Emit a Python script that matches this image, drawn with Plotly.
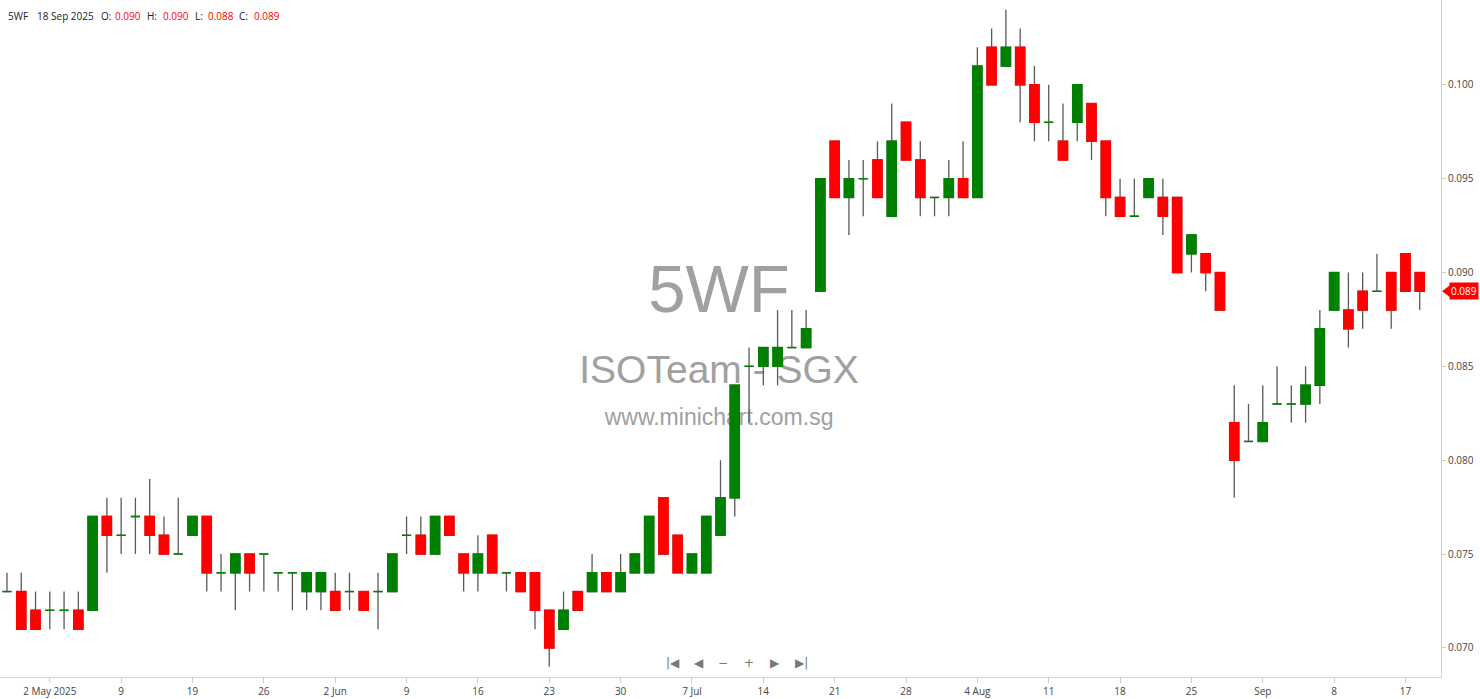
import plotly.graph_objects as go

# ---------------- data ----------------
dates = [
    "2025-04-28", "2025-04-29", "2025-04-30", "2025-05-02", "2025-05-05", "2025-05-06", "2025-05-07", "2025-05-08",
    "2025-05-09", "2025-05-13", "2025-05-14", "2025-05-15", "2025-05-16", "2025-05-19", "2025-05-20", "2025-05-21",
    "2025-05-22", "2025-05-23", "2025-05-26", "2025-05-27", "2025-05-28", "2025-05-29", "2025-05-30", "2025-06-02",
    "2025-06-03", "2025-06-04", "2025-06-05", "2025-06-06", "2025-06-09", "2025-06-10", "2025-06-11", "2025-06-12",
    "2025-06-13", "2025-06-16", "2025-06-17", "2025-06-18", "2025-06-19", "2025-06-20", "2025-06-23", "2025-06-24",
    "2025-06-25", "2025-06-26", "2025-06-27", "2025-06-30", "2025-07-01", "2025-07-02", "2025-07-03", "2025-07-04",
    "2025-07-07", "2025-07-08", "2025-07-09", "2025-07-10", "2025-07-11", "2025-07-14", "2025-07-15", "2025-07-16",
    "2025-07-17", "2025-07-18", "2025-07-21", "2025-07-22", "2025-07-23", "2025-07-24", "2025-07-25", "2025-07-28",
    "2025-07-29", "2025-07-30", "2025-07-31", "2025-08-01", "2025-08-04", "2025-08-05", "2025-08-06", "2025-08-07",
    "2025-08-08", "2025-08-11", "2025-08-12", "2025-08-13", "2025-08-14", "2025-08-15", "2025-08-18", "2025-08-19",
    "2025-08-20", "2025-08-21", "2025-08-22", "2025-08-25", "2025-08-26", "2025-08-27", "2025-08-28", "2025-08-29",
    "2025-09-01", "2025-09-02", "2025-09-03", "2025-09-04", "2025-09-05", "2025-09-08", "2025-09-09", "2025-09-10",
    "2025-09-11", "2025-09-12", "2025-09-17", "2025-09-18",
]

opens = [
    0.073, 0.073, 0.072, 0.072, 0.072, 0.072, 0.072, 0.077, 0.076, 0.077, 0.077, 0.076, 0.075, 0.076, 0.077, 0.074,
    0.074, 0.075, 0.075, 0.074, 0.074, 0.073, 0.073, 0.073, 0.073, 0.073, 0.073, 0.073, 0.076, 0.076, 0.075, 0.077,
    0.075, 0.074, 0.076, 0.074, 0.074, 0.074, 0.072, 0.071, 0.073, 0.073, 0.074, 0.073, 0.074, 0.074, 0.078, 0.076,
    0.074, 0.074, 0.076, 0.078, 0.085, 0.085, 0.085, 0.086, 0.086, 0.089, 0.097, 0.094, 0.095, 0.096, 0.093, 0.098,
    0.096, 0.094, 0.094, 0.095, 0.094, 0.102, 0.101, 0.102, 0.100, 0.098, 0.097, 0.098, 0.099, 0.097, 0.094, 0.093,
    0.094, 0.094, 0.094, 0.091, 0.091, 0.090, 0.082, 0.081, 0.081, 0.083, 0.083, 0.083, 0.084, 0.088, 0.088, 0.089,
    0.089, 0.090, 0.091, 0.090,
]
highs = [
    0.074, 0.074, 0.073, 0.073, 0.073, 0.073, 0.077, 0.078, 0.078, 0.078, 0.079, 0.077, 0.078, 0.077, 0.077, 0.075,
    0.075, 0.075, 0.075, 0.074, 0.074, 0.074, 0.074, 0.074, 0.074, 0.073, 0.074, 0.075, 0.077, 0.077, 0.077, 0.077,
    0.075, 0.076, 0.076, 0.074, 0.074, 0.074, 0.072, 0.073, 0.073, 0.075, 0.074, 0.075, 0.075, 0.077, 0.078, 0.076,
    0.075, 0.077, 0.080, 0.084, 0.086, 0.086, 0.088, 0.088, 0.088, 0.095, 0.097, 0.096, 0.096, 0.097, 0.099, 0.098,
    0.097, 0.094, 0.096, 0.097, 0.102, 0.103, 0.104, 0.103, 0.101, 0.100, 0.099, 0.100, 0.099, 0.097, 0.095, 0.095,
    0.095, 0.095, 0.094, 0.092, 0.091, 0.090, 0.084, 0.083, 0.084, 0.085, 0.084, 0.085, 0.088, 0.090, 0.090, 0.090,
    0.091, 0.090, 0.091, 0.090,
]
lows = [
    0.073, 0.071, 0.071, 0.071, 0.071, 0.071, 0.072, 0.074, 0.075, 0.075, 0.075, 0.075, 0.075, 0.076, 0.073, 0.073,
    0.072, 0.073, 0.073, 0.073, 0.072, 0.072, 0.072, 0.072, 0.072, 0.072, 0.071, 0.073, 0.075, 0.075, 0.075, 0.076,
    0.073, 0.073, 0.074, 0.073, 0.073, 0.071, 0.069, 0.071, 0.072, 0.073, 0.073, 0.073, 0.074, 0.074, 0.075, 0.074,
    0.074, 0.074, 0.076, 0.077, 0.082, 0.084, 0.084, 0.086, 0.086, 0.089, 0.094, 0.092, 0.093, 0.094, 0.093, 0.096,
    0.093, 0.093, 0.093, 0.094, 0.094, 0.100, 0.101, 0.098, 0.097, 0.097, 0.096, 0.097, 0.096, 0.093, 0.093, 0.093,
    0.094, 0.092, 0.090, 0.090, 0.089, 0.088, 0.078, 0.081, 0.081, 0.083, 0.082, 0.082, 0.083, 0.088, 0.086, 0.087,
    0.089, 0.087, 0.089, 0.088,
]
closes = [
    0.073, 0.071, 0.071, 0.072, 0.072, 0.071, 0.077, 0.076, 0.076, 0.077, 0.076, 0.075, 0.075, 0.077, 0.074, 0.074,
    0.075, 0.074, 0.075, 0.074, 0.074, 0.074, 0.074, 0.072, 0.073, 0.072, 0.073, 0.075, 0.076, 0.075, 0.077, 0.076,
    0.074, 0.075, 0.074, 0.074, 0.073, 0.072, 0.070, 0.072, 0.072, 0.074, 0.073, 0.074, 0.075, 0.077, 0.075, 0.074,
    0.075, 0.077, 0.078, 0.084, 0.085, 0.086, 0.086, 0.086, 0.087, 0.095, 0.094, 0.095, 0.095, 0.094, 0.097, 0.096,
    0.094, 0.094, 0.095, 0.094, 0.101, 0.100, 0.102, 0.100, 0.098, 0.098, 0.096, 0.100, 0.097, 0.094, 0.093, 0.093,
    0.095, 0.093, 0.090, 0.092, 0.090, 0.088, 0.080, 0.081, 0.082, 0.083, 0.083, 0.084, 0.087, 0.090, 0.087, 0.088,
    0.089, 0.088, 0.089, 0.089,
]

tick_dates = ["2025-05-02", "2025-05-09", "2025-05-19", "2025-05-26", "2025-06-02", "2025-06-09", "2025-06-16",
              "2025-06-23", "2025-06-30", "2025-07-07", "2025-07-14", "2025-07-21", "2025-07-28", "2025-08-04",
              "2025-08-11", "2025-08-18", "2025-08-25", "2025-09-01", "2025-09-08", "2025-09-17"]
tick_labels = ["2 May 2025", "9", "19", "26", "2 Jun", "9", "16", "23", "30", "7 Jul", "14", "21", "28", "4 Aug",
               "11", "18", "25", "Sep", "8", "17"]

symbol = "5WF"
company = "ISOTeam - SGX"
site = "www.minichart.com.sg"
last_date_label = "18 Sep 2025"

# ---------------- layout constants ----------------
W, H = 1480, 699
PLOT_W, PLOT_H = 1441, 677
GREEN = "#008000"
RED = "#ff0000"
WICK = "#5a5a5a"
WM = "#a0a0a0"

def px_x(px):
    return px / PLOT_W

def px_y(py):
    return 1 - py / PLOT_H

# body traces (up incl. doji / down)
up_o, up_h, up_l, up_c = [], [], [], []
dn_o, dn_h, dn_l, dn_c = [], [], [], []
for o, c in zip(opens, closes):
    top, bot = max(o, c), min(o, c)
    if c >= o:
        up_o.append(o); up_h.append(top); up_l.append(bot); up_c.append(c)
        dn_o.append(None); dn_h.append(None); dn_l.append(None); dn_c.append(None)
    else:
        dn_o.append(o); dn_h.append(top); dn_l.append(bot); dn_c.append(c)
        up_o.append(None); up_h.append(None); up_l.append(None); up_c.append(None)

fig = go.Figure()

# watermark (base axes, drawn under the candles)
wm_font = "Liberation Sans, Arial, sans-serif"
fig.add_trace(go.Scatter(
    x=[0.499, 0.499, 0.499], y=[px_y(295), px_y(373), px_y(419)],
    text=[symbol, company, site], mode="text", textposition="middle center",
    textfont=dict(family=wm_font, size=[67, 39, 23], color=WM),
    hoverinfo="skip", showlegend=False, xaxis="x", yaxis="y",
))

# wicks (full OHLC)
fig.add_trace(go.Candlestick(
    x=dates, open=opens, high=highs, low=lows, close=closes,
    increasing=dict(line=dict(color=WICK, width=1.3), fillcolor=WICK),
    decreasing=dict(line=dict(color=WICK, width=1.3), fillcolor=WICK),
    whiskerwidth=0, showlegend=False, xaxis="x2", yaxis="y2", name=symbol,
))
# bodies
fig.add_trace(go.Candlestick(
    x=dates, open=up_o, high=up_h, low=up_l, close=up_c,
    increasing=dict(line=dict(color=GREEN, width=1.5), fillcolor=GREEN),
    decreasing=dict(line=dict(color=GREEN, width=1.5), fillcolor=GREEN),
    whiskerwidth=0, showlegend=False, hoverinfo="skip", xaxis="x2", yaxis="y2",
))
fig.add_trace(go.Candlestick(
    x=dates, open=dn_o, high=dn_h, low=dn_l, close=dn_c,
    increasing=dict(line=dict(color=RED, width=1.5), fillcolor=RED),
    decreasing=dict(line=dict(color=RED, width=1.5), fillcolor=RED),
    whiskerwidth=0, showlegend=False, hoverinfo="skip", xaxis="x2", yaxis="y2",
))

axis_font = dict(family="Open Sans, Noto Sans, sans-serif", size=10, color="#444")

fig.update_layout(
    width=W, height=H,
    margin=dict(l=0, r=W - PLOT_W, t=0, b=H - PLOT_H),
    paper_bgcolor="white", plot_bgcolor="white",
    showlegend=False,
    boxgap=0.36, boxgroupgap=0,
    xaxis=dict(range=[0, 1], visible=False, fixedrange=True, rangeslider=dict(visible=False)),
    yaxis=dict(range=[0, 1], visible=False, fixedrange=True),
    xaxis2=dict(
        type="category", overlaying="x", anchor="y2", side="bottom",
        categoryorder="array", categoryarray=dates,
        range=[-0.49, 100.49],
        tickmode="array", tickvals=tick_dates, ticktext=tick_labels,
        ticks="outside", ticklen=5, tickcolor="#cccccc", tickfont=axis_font,
        showline=True, linecolor="#d4d4d4", linewidth=1,
        showgrid=False, zeroline=False, rangeslider=dict(visible=False),
    ),
    yaxis2=dict(
        overlaying="y", anchor="x2", side="right",
        range=[0.06845, 0.10452],
        tick0=0.07, dtick=0.005, tickformat=".3f",
        ticks="outside", ticklen=4, tickcolor="#cccccc", tickfont=axis_font,
        showline=True, linecolor="#d4d4d4", linewidth=1,
        showgrid=False, zeroline=False,
    ),
)

# header line
hdr_font = "Open Sans, Noto Sans, sans-serif"
last_o, last_h, last_l, last_c = opens[-1], highs[-1], lows[-1], closes[-1]
header_parts = [
    (7, symbol, "#222"), (36, last_date_label, "#222"),
    (100, "O:", "#222"), (114, f"{last_o:.3f}", RED),
    (146, "H:", "#222"), (162, f"{last_h:.3f}", RED),
    (194, "L:", "#222"), (207, f"{last_l:.3f}", RED),
    (238, "C:", "#222"), (253, f"{last_c:.3f}", RED),
]
for px, txt, col in header_parts:
    fig.add_annotation(x=px_x(px), y=px_y(15.5), xref="paper", yref="paper", text=txt,
                       showarrow=False, xanchor="left", yanchor="middle", borderpad=0,
                       font=dict(family=hdr_font, size=10, color=col))

# navigation glyphs
nav = [(673, "|◀"), (699, "◀"), (723, "−"), (749, "+"), (775, "▶"), (801, "▶|")]
for px, txt in nav:
    fig.add_annotation(x=px_x(px), y=px_y(663), xref="paper", yref="paper", text=txt,
                       showarrow=False, xanchor="center", yanchor="middle",
                       font=dict(family="DejaVu Sans", size=12, color="#777"))

# last price tag on the right axis
fig.add_annotation(x=px_x(1449), y=last_c, xref="paper", yref="y2", text=f"{last_c:.3f}",
                   showarrow=False, xanchor="left", yanchor="middle", bgcolor=RED, borderpad=1,
                   font=dict(family=hdr_font, size=10, color="white"))
dy = 6 * (0.10452 - 0.06845) / PLOT_H
fig.add_shape(type="path", xref="paper", yref="y2",
              path=f"M {px_x(1442)} {last_c} L {px_x(1450)} {last_c + dy} L {px_x(1450)} {last_c - dy} Z",
              fillcolor=RED, line=dict(width=0))

fig.write_html(
    "out.html",
    config={"displayModeBar": False},
    post_script="document.body.style.margin='0';document.body.style.overflow='hidden';",
)
